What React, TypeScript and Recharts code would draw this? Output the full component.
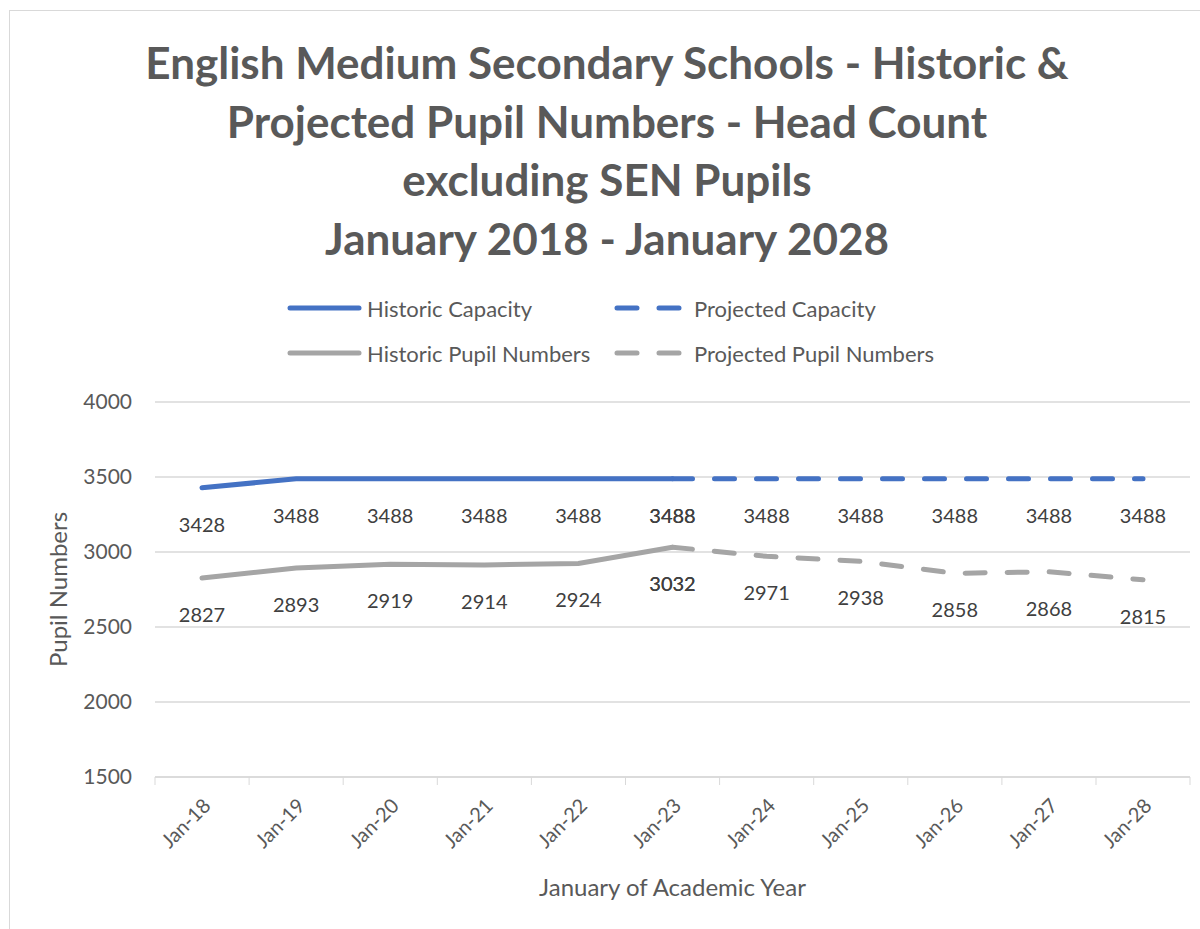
import React from 'react';
import { LineChart, Line, XAxis, YAxis, CartesianGrid } from 'recharts';

const categories = ['Jan-18', 'Jan-19', 'Jan-20', 'Jan-21', 'Jan-22', 'Jan-23', 'Jan-24', 'Jan-25', 'Jan-26', 'Jan-27', 'Jan-28'];
const capacity = [3428, 3488, 3488, 3488, 3488, 3488, 3488, 3488, 3488, 3488, 3488];
const pupils = [2827, 2893, 2919, 2914, 2924, 3032, 2971, 2938, 2858, 2868, 2815];
const lastHistoricIndex = 5;
const yTicks = [1500, 2000, 2500, 3000, 3500, 4000];
const titleLines = [
  'English Medium Secondary Schools - Historic &',
  'Projected Pupil Numbers - Head Count',
  'excluding SEN Pupils',
  'January 2018 - January 2028',
];

const BLUE = '#4472C4';
const GREY = '#A5A5A5';
const TEXT = '#595959';
const FONT = 'Lato, "Open Sans", sans-serif';

const data = categories.map((c, i) => ({
  cat: c,
  histCap: i <= lastHistoricIndex ? capacity[i] : null,
  projCap: i >= lastHistoricIndex ? capacity[i] : null,
  histPup: i <= lastHistoricIndex ? pupils[i] : null,
  projPup: i >= lastHistoricIndex ? pupils[i] : null,
}));

const ValueLabel = (props: any) => {
  const { x, y, value } = props;
  if (value == null) return null;
  return (
    <text x={x} y={y + 44} textAnchor="middle" fill="#404040" fontSize={20} fontFamily={FONT}>
      {value}
    </text>
  );
};

const XTick = (props: any) => {
  const { x, y, payload, index, visibleTicksCount } = props;
  const half = 47;
  return (
    <g>
      <line x1={x - half} y1={y - 8} x2={x - half} y2={y} stroke="#d9d9d9" strokeWidth={1} />
      {index === visibleTicksCount - 1 && (
        <line x1={x + half} y1={y - 8} x2={x + half} y2={y} stroke="#d9d9d9" strokeWidth={1} />
      )}
      <text
        x={x + 10}
        y={y + 22}
        textAnchor="end"
        transform={`rotate(-45, ${x + 10}, ${y + 22})`}
        fill={TEXT}
        fontSize={20}
        fontFamily={FONT}
      >
        {payload.value}
      </text>
    </g>
  );
};

const legendItems = [
  { label: 'Historic Capacity', color: BLUE, dashed: false, col: 0, row: 0 },
  { label: 'Projected Capacity', color: BLUE, dashed: true, col: 1, row: 0 },
  { label: 'Historic Pupil Numbers', color: GREY, dashed: false, col: 0, row: 1 },
  { label: 'Projected Pupil Numbers', color: GREY, dashed: true, col: 1, row: 1 },
];

const LegendBlock = () => (
  <div style={{ position: 'absolute', left: 285, top: 293, width: 720, height: 80 }}>
    {legendItems.map((it) => (
      <div
        key={it.label}
        style={{
          position: 'absolute',
          left: it.col * 327,
          top: it.row * 45,
          display: 'flex',
          alignItems: 'center',
          height: 30,
        }}
      >
        <svg width={82} height={10}>
          <line
            x1={5}
            y1={5}
            x2={74}
            y2={5}
            stroke={it.color}
            strokeWidth={5}
            strokeLinecap="round"
            strokeDasharray={it.dashed ? '20 22' : undefined}
          />
        </svg>
        <span style={{ fontFamily: FONT, fontSize: 22, color: TEXT, whiteSpace: 'nowrap' }}>{it.label}</span>
      </div>
    ))}
  </div>
);

export default function App() {
  return (
    <div style={{ position: 'absolute', left: 0, top: 0, width: 1200, height: 929, background: '#fff', overflow: 'hidden' }}>
      <div
        style={{
          position: 'absolute',
          left: 9,
          top: 10,
          width: 1200,
          height: 940,
          border: '1px solid #d9d9d9',
          boxSizing: 'border-box',
        }}
      />
      <div
        style={{
          position: 'absolute',
          left: 0,
          top: 33,
          width: 1214,
          textAlign: 'center',
          fontFamily: FONT,
          fontWeight: 'bold',
          fontSize: 44,
          lineHeight: '58.5px',
          color: TEXT,
        }}
      >
        {titleLines.map((l) => (
          <div key={l}>{l}</div>
        ))}
      </div>
      <LegendBlock />
      <LineChart
        width={1200}
        height={929}
        data={data}
        margin={{ top: 402, right: 10, bottom: 0, left: 0 }}
        style={{ position: 'absolute', left: 0, top: 0 }}
      >
        <CartesianGrid vertical={false} stroke="#d9d9d9" strokeWidth={1.5} />
        <XAxis
          dataKey="cat"
          padding={{ left: 47, right: 47 }}
          height={152}
          axisLine={{ stroke: '#d9d9d9', strokeWidth: 1.5 }}
          tickLine={false}
          tick={<XTick />}
          interval={0}
          label={{ value: 'January of Academic Year', position: 'insideBottom', offset: 33, fill: TEXT, fontSize: 24, fontFamily: FONT }}
        />
        <YAxis
          width={155}
          domain={[1500, 4000]}
          ticks={yTicks}
          axisLine={false}
          tickLine={false}
          tick={{ fill: TEXT, fontSize: 21, fontFamily: FONT }}
          tickMargin={17}
          label={{ value: 'Pupil Numbers', angle: -90, position: 'insideLeft', offset: 58, fill: TEXT, fontSize: 24, fontFamily: FONT, style: { textAnchor: 'middle' } }}
        />
        <Line dataKey="histCap" stroke={BLUE} strokeWidth={5} dot={false} strokeLinecap="round" isAnimationActive={false} label={<ValueLabel />} />
        <Line dataKey="projCap" stroke={BLUE} strokeWidth={5} dot={false} strokeLinecap="round" strokeDasharray="20 22" isAnimationActive={false} label={<ValueLabel />} />
        <Line dataKey="histPup" stroke={GREY} strokeWidth={5} dot={false} strokeLinecap="round" isAnimationActive={false} label={<ValueLabel />} />
        <Line dataKey="projPup" stroke={GREY} strokeWidth={5} dot={false} strokeLinecap="round" strokeDasharray="20 22" isAnimationActive={false} label={<ValueLabel />} />
      </LineChart>
    </div>
  );
}
